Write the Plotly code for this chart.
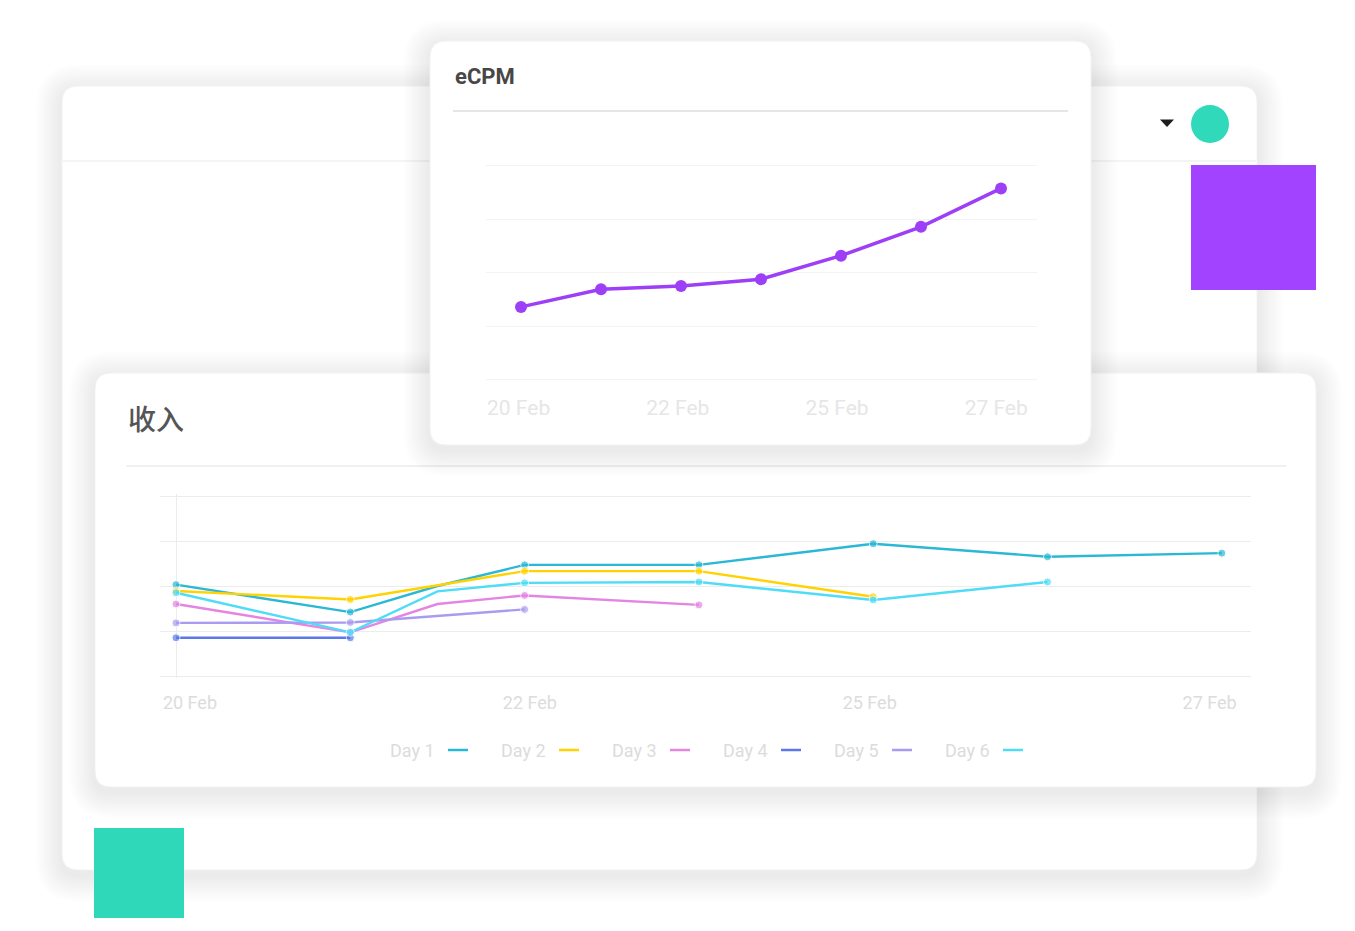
import plotly.graph_objects as go

# page body adds an 8px margin, so the figure is drawn 16px smaller and offset
OFF = 8
W, H = 1355 - 2 * OFF, 931 - 2 * OFF

# eCPM card data
ecpm_x = [0, 1, 2, 3, 4, 5, 6]
ecpm_y = [1.36, 1.69, 1.75, 1.88, 2.32, 2.86, 3.58]
ecpm_ticks = ["20 Feb", "22 Feb", "25 Feb", "27 Feb"]
ecpm_tick_pos = [-0.03, 1.96, 3.95, 5.94]

# 收入 card data (x = day index, 1.5 = unmarked bend)
rev_x = [0, 1, 1.5, 2, 3, 4, 5, 6]
day1 = [2.03, 1.42, 2.00, 2.47, 2.47, 2.94, 2.65, 2.73]
day2 = [1.89, 1.70, None, 2.33, 2.33, 1.76, None, None]
day3 = [1.60, 0.97, 1.60, 1.79, 1.58, None, None, None]
day4 = [0.85, 0.85, None, None, None, None, None, None]
day5 = [1.18, 1.19, None, 1.48, None, None, None, None]
day6 = [1.85, 0.97, 1.88, 2.07, 2.09, 1.69, 2.09, None]
rev_series = [day1, day2, day3, day4, day5, day6]
rev_names = ["Day 1", "Day 2", "Day 3", "Day 4", "Day 5", "Day 6"]
rev_colors = ["#2bb8d5", "#ffd200", "#e585e2", "#5a78ea", "#a99cf0", "#4fdcf7"]
rev_ticks = ["20 Feb", "22 Feb", "25 Feb", "27 Feb"]
rev_tick_pos = [0.08, 2.03, 3.98, 5.93]


def px(x):
    return (x - OFF) / W


def py(y):
    return 1 - (y - OFF) / H


def rrect(x0, y0, x1, y1, r):
    pts = [
        ("M", [(x0 + r, y0)]), ("L", [(x1 - r, y0)]), ("Q", [(x1, y0), (x1, y0 + r)]),
        ("L", [(x1, y1 - r)]), ("Q", [(x1, y1), (x1 - r, y1)]),
        ("L", [(x0 + r, y1)]), ("Q", [(x0, y1), (x0, y1 - r)]),
        ("L", [(x0, y0 + r)]), ("Q", [(x0, y0), (x0 + r, y0)]),
    ]
    s = ""
    for cmd, coords in pts:
        s += cmd + " " + " ".join(f"{px(a):.5f},{py(b):.5f}" for a, b in coords) + " "
    return s + "Z"


shapes = []


def card(x0, y0, x1, y1, r):
    # soft shadow from stacked translucent rects
    for i in range(10, 0, -1):
        g = 2.6 * i
        shapes.append(dict(type="path", xref="paper", yref="paper", layer="below",
                           path=rrect(x0 - g, y0 - g + 5, x1 + g, y1 + g + 5, r + g),
                           fillcolor="rgba(0,0,0,0.0065)", line=dict(width=0)))
    shapes.append(dict(type="path", xref="paper", yref="paper", layer="below",
                       path=rrect(x0, y0, x1, y1, r), fillcolor="white",
                       line=dict(color="#f2f2f2", width=1)))


def hline(x0, x1, y, color, width):
    shapes.append(dict(type="line", xref="paper", yref="paper", layer="below",
                       x0=px(x0), x1=px(x1), y0=py(y), y1=py(y),
                       line=dict(color=color, width=width)))


# back card
card(62, 86, 1257, 870, 16)
hline(63, 1256, 161, "#f1f1f1", 1.5)
shapes.append(dict(type="path", xref="paper", yref="paper", layer="below",
                   path=f"M {px(1160):.5f},{py(119.5):.5f} L {px(1174):.5f},{py(119.5):.5f} "
                        f"L {px(1167):.5f},{py(127):.5f} Z",
                   fillcolor="#1e1e1e", line=dict(width=0)))
shapes.append(dict(type="circle", xref="paper", yref="paper", layer="below",
                   x0=px(1191), x1=px(1229), y0=py(105), y1=py(143),
                   fillcolor="#2fd9b9", line=dict(width=0)))
shapes.append(dict(type="rect", xref="paper", yref="paper", layer="below",
                   x0=px(1191), x1=px(1316), y0=py(165), y1=py(290),
                   fillcolor="#a143ff", line=dict(width=0)))
shapes.append(dict(type="rect", xref="paper", yref="paper", layer="below",
                   x0=px(94), x1=px(184), y0=py(828), y1=py(918),
                   fillcolor="#2fd8b8", line=dict(width=0)))

# revenue card
card(95, 373, 1316, 787, 16)
hline(126, 1286, 466, "#ebebeb", 1.5)

# eCPM card
card(430, 41, 1091, 445, 16)
hline(453, 1068, 111, "#e6e6e6", 2)

# manual legend (label first, swatch after)
annotations = []
for i, (name, color) in enumerate(zip(rev_names, rev_colors)):
    lx = 388 + 111 * i
    annotations.append(dict(text=name, x=px(lx), y=py(750), xref="paper", yref="paper",
                            xanchor="left", yanchor="middle", showarrow=False,
                            font=dict(family="Roboto", size=18, color="#dcdcdc")))
    shapes.append(dict(type="line", xref="paper", yref="paper",
                       x0=px(lx + 60), x1=px(lx + 80), y0=py(750), y1=py(750),
                       line=dict(color=color, width=2.5)))

annotations.append(dict(text="收入", x=px(126), y=py(418), xref="paper", yref="paper",
                        xanchor="left", yanchor="middle", showarrow=False,
                        font=dict(family="Noto Sans CJK SC", size=28, color="#555555",
                                  weight=500)))
annotations.append(dict(text="<b>eCPM</b>", x=px(453), y=py(77), xref="paper", yref="paper",
                        xanchor="left", yanchor="middle", showarrow=False,
                        font=dict(family="Roboto", size=22, color="#474747")))

fig = go.Figure()

fig.add_trace(go.Scatter(x=ecpm_x, y=ecpm_y, mode="lines+markers", xaxis="x", yaxis="y",
                         line=dict(color="#9d3ff7", width=3.5),
                         marker=dict(size=12, color="#9d3ff7"), hoverinfo="skip"))

for name, vals, color in zip(rev_names, rev_series, rev_colors):
    sizes = [0 if xv == 1.5 else 8 for xv in rev_x]
    fig.add_trace(go.Scatter(x=rev_x, y=vals, name=name, mode="lines+markers",
                             xaxis="x2", yaxis="y2", connectgaps=True,
                             line=dict(color=color, width=2.4),
                             marker=dict(size=sizes, color=color), hoverinfo="skip"))


def vdomain(top_px, bottom_px, pad):
    # pad (in value units) keeps the edge grid lines inside the plot area
    unit = (bottom_px - top_px) / 4
    return [py(bottom_px + pad * unit), py(top_px - pad * unit)]


PAD = 0.04
fig.update_layout(
    width=W, height=H,
    margin=dict(l=0, r=0, t=0, b=0),
    paper_bgcolor="white", plot_bgcolor="rgba(0,0,0,0)",
    showlegend=False,
    shapes=shapes, annotations=annotations,
    xaxis=dict(domain=[px(486), px(1037)], range=[(486 - 521) / 80, (1037 - 521) / 80],
               showgrid=False, zeroline=False, showline=False, ticks="",
               tickvals=ecpm_tick_pos, ticktext=ecpm_ticks, ticklabelstandoff=11,
               tickfont=dict(family="Roboto", size=21, color="#e6e6e6"), anchor="y"),
    yaxis=dict(domain=vdomain(166, 379.5, PAD), range=[-PAD, 4 + PAD], dtick=1, tick0=0,
               gridcolor="#f3f3f3", gridwidth=1, zeroline=False, showticklabels=False,
               anchor="x"),
    xaxis2=dict(domain=[px(160), px(1251)], range=[(160 - 176) / 174.3, (1251 - 176) / 174.3],
                showgrid=False, zeroline=True, zerolinecolor="#ececec", zerolinewidth=1,
                showline=False, ticks="", tickvals=rev_tick_pos, ticktext=rev_ticks,
                ticklabelstandoff=12,
                tickfont=dict(family="Roboto", size=18, color="#dcdcdc"), anchor="y2"),
    yaxis2=dict(domain=vdomain(496, 676, PAD), range=[-PAD, 4 + PAD], dtick=1, tick0=0,
                gridcolor="#ececec", gridwidth=1, zeroline=False, showticklabels=False,
                anchor="x2"),
)

fig.write_html("out.html")
